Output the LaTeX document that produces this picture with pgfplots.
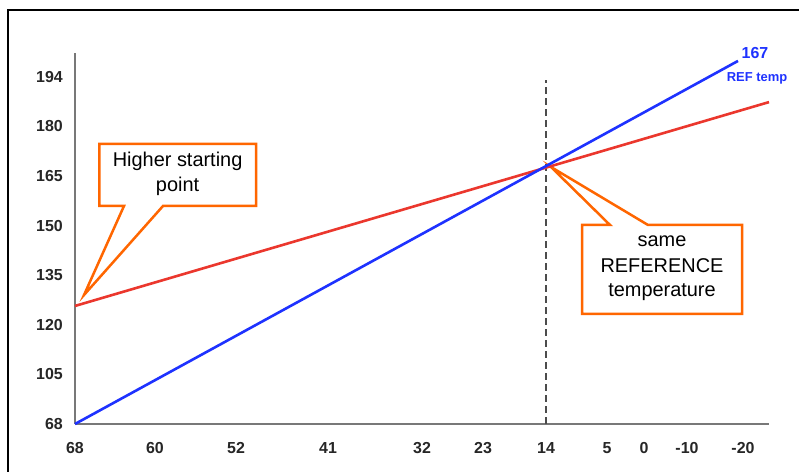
\documentclass[border=0pt]{standalone}
\usepackage{pgfplots}
\pgfplotsset{compat=1.18}
\usepackage{fontspec}
\setmainfont{Liberation Sans}
\definecolor{blueline}{RGB}{30,50,255}
\definecolor{redline}{RGB}{235,55,45}
\definecolor{callout}{RGB}{255,102,0}
\definecolor{axgray}{RGB}{120,120,120}
\begin{document}
\begin{tikzpicture}
\useasboundingbox (0,0) rectangle (799bp,472bp);
\fill[white] (0,0) rectangle (799bp,472bp);
\draw[line width=1.8bp,black] (8bp,-20bp) -- (8bp,462bp) -- (830bp,462bp);
% callout 1
\draw[callout, line width=2.5bp, fill=white, line join=miter]
  (99.3bp,328bp) -- (256bp,328bp) -- (256bp,266bp) -- (163bp,266bp) -- (84bp,177bp) -- (124bp,266bp) -- (99.3bp,266bp) -- cycle;
\node[anchor=base, inner sep=0pt, font=\fontsize{20}{24}\selectfont] at (177.6bp,305bp) {Higher starting};
\node[anchor=base, inner sep=0pt, font=\fontsize{20}{24}\selectfont] at (177.6bp,280bp) {point};
% callout 2
\draw[callout, line width=2.5bp, fill=white, line join=miter]
  (582bp,247bp) -- (610bp,247bp) -- (551bp,305bp) -- (648bp,247bp) -- (742bp,247bp) -- (742bp,158bp) -- (582bp,158bp) -- cycle;
\node[anchor=base, inner sep=0pt, font=\fontsize{20}{24}\selectfont] at (662bp,225bp) {same};
\node[anchor=base, inner sep=0pt, font=\fontsize{20}{24}\selectfont] at (662bp,199bp) {REFERENCE};
\node[anchor=base, inner sep=0pt, font=\fontsize{20}{24}\selectfont] at (662bp,175bp) {temperature};
\begin{axis}[
  at={(75bp,48bp)}, anchor=south west,
  scale only axis, width=694bp, height=371bp,
  xmin=75, xmax=769, ymin=0, ymax=7.48,
  axis x line*=bottom, axis y line*=left,
  axis line style={axgray, line width=1.2bp, -},
  major tick length=0pt,
  xtick={75,155,236,328,422,483,546,607,644,687,743},
  xticklabels={68,60,52,41,32,23,14,5,0,-10,-20},
  ytick={0,1,2,3,4,5,6,7},
  yticklabels={68,105,120,135,150,165,180,194},
  /pgf/number format/assume math mode=true,
  tick label style={font=\fontsize{16}{18}\selectfont\bfseries, text=black!85, inner sep=0pt},
  xticklabel style={anchor=north, yshift=-18bp},
  yticklabel style={anchor=east, xshift=-12bp},
  clip=false,
]
\addplot[black!70, line width=1.1bp, dash pattern=on 7bp off 4bp] coordinates {(546,0) (546,6.94)};
\addplot[redline, line width=2.6bp] coordinates {(75,2.38) (769,6.49)};
\addplot[blueline, line width=2.6bp] coordinates {(75,0) (738,7.32)};
\end{axis}
% labels at blue line end
\node[anchor=base, inner sep=0pt, text=blueline, font=\fontsize{16}{18}\selectfont\bfseries] at (755bp,413bp) {167};
\node[anchor=base, inner sep=0pt, text=blueline, font=\fontsize{13}{15}\selectfont\bfseries] at (757bp,390bp) {REF temp};
\end{tikzpicture}
\end{document}
